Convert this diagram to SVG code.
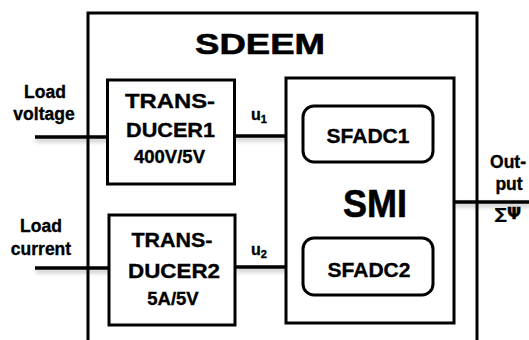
<svg xmlns="http://www.w3.org/2000/svg" width="529" height="340" viewBox="0 0 529 340">
  <defs>
    <filter id="sh" x="-10%" y="-50%" width="120%" height="300%">
      <feDropShadow dx="1" dy="3" stdDeviation="2" flood-color="#000" flood-opacity="0.25"/>
    </filter>
  </defs>
  <style>
    .box { fill: #fff; stroke: #000; stroke-width: 3; }
    .frame { fill: none; stroke: #000; stroke-width: 3; }
    .wire { fill: none; stroke: #000; stroke-width: 3.5; }
    text { font-family: "Liberation Sans", Arial, sans-serif; font-weight: bold; fill: #000; stroke: #000; stroke-width: 0.35; text-anchor: middle; }
    .big { font-size: 30px; stroke-width: 0.6; }
    .smi { font-size: 39px; stroke-width: 0.6; }
    .td { font-size: 21px; }
    .rt { font-size: 18.5px; }
    .lbl { font-size: 17.5px; }
    .sf { font-size: 21px; }
    .u { font-size: 16px; }
    .sub { font-size: 11px; }
    .sym { font-family: "DejaVu Sans", "Noto Sans", sans-serif; font-size: 15px; }
  </style>
  <rect width="529" height="340" fill="#fff"/>

  <g id="connectors" filter="url(#sh)">
    <line class="wire" x1="35" y1="137" x2="108" y2="137"/>
    <line class="wire" x1="234" y1="136" x2="287" y2="136"/>
    <line class="wire" x1="35" y1="268" x2="109" y2="268"/>
    <line class="wire" x1="235" y1="267" x2="287" y2="267"/>
    <line class="wire" x1="454" y1="202" x2="529" y2="202"/>
  </g>

  <g id="sdeem">
    <path class="frame" d="M88,345 V13 H477 V345"/>
    <text class="big" x="260" y="54" textLength="130" lengthAdjust="spacingAndGlyphs">SDEEM</text>
  </g>

  <g id="transducer1">
    <rect class="box" x="107.5" y="80" width="127" height="104"/>
    <text class="td" x="170" y="108" textLength="90" lengthAdjust="spacingAndGlyphs">TRANS-</text>
    <text class="td" x="170.5" y="137" textLength="89" lengthAdjust="spacingAndGlyphs">DUCER1</text>
    <text class="rt" x="169.5" y="163">400V/5V</text>
  </g>

  <g id="transducer2">
    <rect class="box" x="109" y="215" width="126" height="110"/>
    <text class="td" x="172" y="247" textLength="81" lengthAdjust="spacingAndGlyphs">TRANS-</text>
    <text class="td" x="174" y="278" textLength="92" lengthAdjust="spacingAndGlyphs">DUCER2</text>
    <text class="rt" x="173" y="305">5A/5V</text>
  </g>

  <g id="smi">
    <rect class="box" x="286" y="78" width="168" height="245"/>
    <text class="smi" x="375" y="217" textLength="64" lengthAdjust="spacingAndGlyphs">SMI</text>
  </g>

  <g id="sfadc1">
    <rect class="box" x="303" y="106" width="130" height="56" rx="11"/>
    <text class="sf" x="368" y="143">SFADC1</text>
  </g>

  <g id="sfadc2">
    <rect class="box" x="303" y="238" width="130" height="57" rx="11"/>
    <text class="sf" x="369" y="277">SFADC2</text>
  </g>

  <g id="labels">
    <text class="lbl" x="45" y="98">Load</text>
    <text class="lbl" x="44" y="120">voltage</text>
    <text class="lbl" x="41" y="232">Load</text>
    <text class="lbl" x="41" y="255">current</text>
    <text class="u" x="259" y="120">u<tspan class="sub" dy="3">1</tspan></text>
    <text class="u" x="259" y="255">u<tspan class="sub" dy="3">2</tspan></text>
    <text class="lbl" x="508" y="168">Out-</text>
    <text class="lbl" x="509" y="190">put</text>
    <text class="sym" x="508" y="219" textLength="26" lengthAdjust="spacingAndGlyphs">∑Ψ</text>
  </g>
</svg>
